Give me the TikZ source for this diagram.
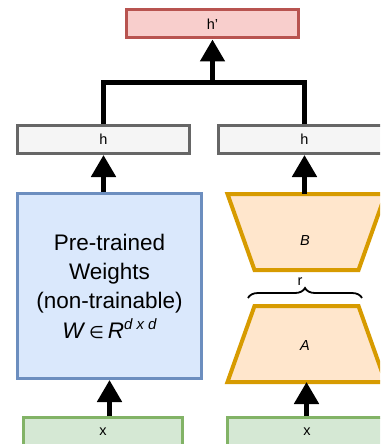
\documentclass[tikz,border=0pt]{standalone}
\usepackage{fontspec}
\setmainfont{Liberation Sans}
\newfontfamily\dejavu{DejaVu Sans}
\usetikzlibrary{arrows.meta,decorations.pathreplacing}
\definecolor{hpstroke}{HTML}{B85450}
\definecolor{hpfill}{HTML}{F8CECC}
\definecolor{hstroke}{HTML}{666666}
\definecolor{hfill}{HTML}{F5F5F5}
\definecolor{wstroke}{HTML}{6C8EBF}
\definecolor{wfill}{HTML}{DAE8FC}
\definecolor{ostroke}{HTML}{D79B00}
\definecolor{ofill}{HTML}{FFE6CC}
\definecolor{gstroke}{HTML}{82B366}
\definecolor{gfill}{HTML}{D5E8D4}
\begin{document}
\begin{tikzpicture}[x=1pt,y=-1pt,
  box/.style={draw, line width=3pt, inner sep=0pt, font=\fontsize{14.5}{17}\selectfont},
  hbox/.style={box, draw=hstroke, fill=hfill, minimum width=172pt, minimum height=28pt},
  hpbox/.style={box, draw=hpstroke, fill=hpfill, minimum width=172pt, minimum height=28pt},
  xbox/.style={box, draw=gstroke, fill=gfill, minimum width=159pt, minimum height=28pt},
  wbox/.style={box, draw=wstroke, fill=wfill, minimum width=184pt, minimum height=185pt,
    align=center, font=\fontsize{22.5}{29.3}\selectfont},
  trap/.style={draw=ostroke, fill=ofill, line width=4pt, line join=miter},
  lbl/.style={inner sep=0pt, font=\fontsize{14.5}{17}\selectfont},
  conn/.style={line width=5pt, line join=miter},
  arr/.style={conn, -{Triangle[length=22pt 0 0, width=24pt 0 0]}},
  bracestyle/.style={line width=1.8pt, decorate, decoration={brace, amplitude=10pt}}
]
\useasboundingbox (0,0) rectangle (380,444);
\clip (0,0) rectangle (380,444);

% boxes
\node[hpbox] (hp) at (212.5,24) {h'};
\node[hbox] (hl) at (103.5,139.5) {h};
\node[hbox] (hr) at (304.5,139.5) {h};
\node[wbox] (W) at (109.5,286) {Pre-trained\\Weights\\(non-trainable)\\
  \textit{W}\,{\dejavu\fontsize{17}{17}\selectfont ∈}\,\textit{R}\raisebox{9pt}{\fontsize{15}{15}\selectfont\itshape d x d}};
\node[xbox] (xl) at (103,431.5) {x};
\node[xbox] (xr) at (307,431.5) {x};

% trapezoids
\coordinate (Btop) at (306.5,194);
\coordinate (Abot) at (306.5,382);
\draw[trap] (227.5,194) -- (385.5,194) -- (358.5,270) -- (254.5,270) -- cycle;
\draw[trap] (254.5,306) -- (358.5,306) -- (385.5,382) -- (227.5,382) -- cycle;
\node[lbl] (B) at (305,241) {\textit{B}};
\node[lbl] (A) at (305,345.5) {\textit{A}};

% brace
\coordinate (br1) at (248,298);
\coordinate (br2) at (362,298);
\draw[bracestyle] (br1) -- (br2);
\node[lbl] (r) at (300,282) {r};

% connectors
\coordinate (j) at (212.5,82);
\draw[conn] (hl.north) |- (j) -| (hr.north);
\draw[arr] (j) -- (hp.south);
\draw[arr] (hl.south |- W.north) -- (hl.south);
\draw[arr] (hr.south |- Btop) -- (hr.south);
\draw[arr] (xl.north -| W.south) -- (W.south);
\draw[arr] (Abot |- xr.north) -- (Abot);
\end{tikzpicture}
\end{document}
